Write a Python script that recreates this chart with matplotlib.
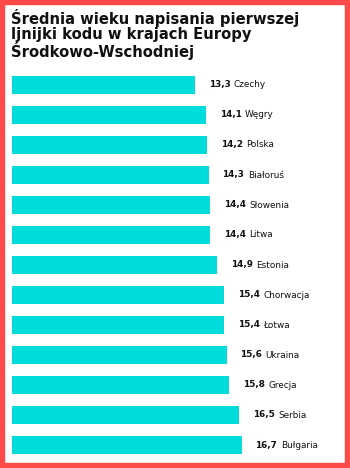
import matplotlib
matplotlib.use("Agg")
import matplotlib.pyplot as plt
from matplotlib.patches import Rectangle

countries = ["Czechy", "Węgry", "Polska", "Białoruś", "Słowenia", "Litwa", "Estonia",
             "Chorwacja", "Łotwa", "Ukraina", "Grecja", "Serbia", "Bułgaria"]
values = [13.3, 14.1, 14.2, 14.3, 14.4, 14.4, 14.9, 15.4, 15.4, 15.6, 15.8, 16.5, 16.7]
value_labels = ["13,3", "14,1", "14,2", "14,3", "14,4", "14,4", "14,9", "15,4", "15,4", "15,6", "15,8", "16,5", "16,7"]
title = "Średnia wieku napisania pierwszej\nljnijki kodu w krajach Europy\nŚrodkowo-Wschodniej"

W, H = 350, 468
plt.rcParams['font.family'] = ['DejaVu Sans']
fig = plt.figure(figsize=(W/100, H/100), dpi=100)
fig.patch.set_facecolor("white")

# red border
fig.add_artist(Rectangle((0, 0), 1, 1, transform=fig.transFigure, fill=False,
                         edgecolor="#ff4a4a", linewidth=7.5))

ax = fig.add_axes([12/W, (H-460)/H, 275/W, 390/H])
ypos = list(range(len(countries)))
ax.barh(ypos, values, height=0.6, color="#00dcdc", edgecolor="none")
ax.set_xlim(0, 20)
ax.set_ylim(12.5, -0.5)
ax.axis("off")

for y, v, vl, c in zip(ypos, values, value_labels, countries):
    t1 = ax.annotate(vl, xy=(v, y), xytext=(10, 0), textcoords="offset points",
                     va="center", ha="left", fontsize=6.4, fontweight="bold", color="#111111")
    ax.annotate(c, xy=(1, 0.5), xycoords=t1, xytext=(2.5, 0), textcoords="offset points",
                va="center", ha="left", fontsize=6.4, color="#111111")

fig.text(11/W, 1 - 9/H, title, ha="left", va="top", fontsize=10.6, fontweight="bold",
         color="#111111", linespacing=1.0)

fig.savefig("out.png", dpi=100)
